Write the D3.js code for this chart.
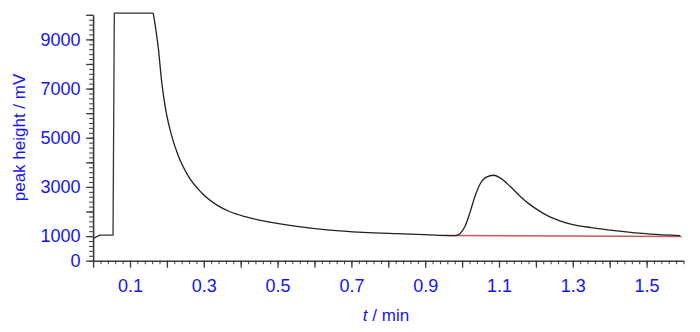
<!DOCTYPE html>
<html>
<head>
<meta charset="utf-8">
<script src="https://cdn.jsdelivr.net/npm/d3@7"></script>
<style>
  html, body { margin: 0; padding: 0; background: #fff; }
  svg { display: block; }
  text { font-family: "Liberation Sans", Arial, sans-serif; }
</style>
</head>
<body>
<svg id="chart" width="700" height="332"></svg>
<script>
// ---- data ----
// step part of the trace (injection + detector saturation)
const stepTime = [0, 0.018, 0.054, 0.0575, 0.163];
const stepValue = [900, 1040, 1040, 10070, 10070];
// smooth part of the trace (decay, analyte peak, tail)
const traceTime = [0.163, 0.177, 0.186, 0.195, 0.213, 0.231, 0.258, 0.294,
  0.339, 0.371, 0.412, 0.461, 0.552, 0.642, 0.732, 0.823, 0.913, 0.962, 0.981, 0.994, 1.008,
  1.021, 1.035, 1.048, 1.067, 1.085, 1.103, 1.130, 1.157, 1.184, 1.211, 1.238, 1.265, 1.30,
  1.35, 1.42, 1.51, 1.591];
const traceValue = [10070, 8612, 7253, 6298, 5073, 4257, 3441, 2763,
  2230, 1990, 1790, 1620, 1400, 1245, 1155, 1098, 1050, 1025, 1020, 1100, 1400,
  1946, 2624, 3100, 3408, 3475, 3367, 3025, 2624, 2280, 2008, 1780, 1620, 1470,
  1345, 1210, 1080, 1020];
const baselineTime = [0.965, 1.595];
const baselineValue = [1020, 985];

const xMajorTicks = [0, 0.1, 0.2, 0.3, 0.4, 0.5, 0.6, 0.7, 0.8, 0.9, 1.0, 1.1, 1.2, 1.3, 1.4, 1.5];
const xTickLabels = ["0.1", "0.3", "0.5", "0.7", "0.9", "1.1", "1.3", "1.5"];
const yMajorTicks = [0, 1000, 2000, 3000, 4000, 5000, 6000, 7000, 8000, 9000, 10000];
const yTickLabels = ["0", "1000", "3000", "5000", "7000", "9000"];
const xTitleItalic = "t";
const xTitleRest = " / min";
const yTitle = "peak height / mV";

// ---- drawing ----
const svg = d3.select("#chart");
const x = d3.scaleLinear().domain([0, 1.6]).range([93.1, 683.5]);
const y = d3.scaleLinear().domain([0, 10000]).range([260.7, 14.8]);

const axisColor = "#3a3a3a";
const labelColor = "#1414f5";

const xMinor = d3.range(0, 1.6001, 0.02).map(v => +v.toFixed(2));
const yMinor = d3.range(0, 10001, 200);

// minor ticks
svg.append("g").attr("transform", `translate(0,${y(0)})`)
  .call(d3.axisBottom(x).tickValues(xMinor).tickSize(3.5).tickSizeOuter(0).tickFormat(""))
  .call(g => g.select(".domain").remove())
  .call(g => g.selectAll("line").attr("stroke", axisColor).attr("stroke-width", 1));
svg.append("g").attr("transform", `translate(${x(0)},0)`)
  .call(d3.axisLeft(y).tickValues(yMinor).tickSize(4).tickSizeOuter(0).tickFormat(""))
  .call(g => g.select(".domain").remove())
  .call(g => g.selectAll("line").attr("stroke", axisColor).attr("stroke-width", 1));

// major x axis
const fmtX = d => { const s = d3.format(".1f")(d); return xTickLabels.includes(s) ? s : ""; };
svg.append("g").attr("transform", `translate(0,${y(0)})`)
  .call(d3.axisBottom(x).tickValues(xMajorTicks).tickSize(7).tickSizeOuter(0).tickPadding(12).tickFormat(fmtX))
  .call(g => g.select(".domain").attr("stroke", axisColor).attr("stroke-width", 1.6))
  .call(g => g.selectAll("line").attr("stroke", axisColor).attr("stroke-width", 1.3))
  .call(g => g.selectAll("text").attr("fill", labelColor).attr("font-size", 18)
    .attr("font-family", "Liberation Sans, Arial, sans-serif"));

// major y axis
const fmtY = d => { const s = String(d); return yTickLabels.includes(s) ? s : ""; };
svg.append("g").attr("transform", `translate(${x(0)},0)`)
  .call(d3.axisLeft(y).tickValues(yMajorTicks).tickSize(7).tickSizeOuter(0).tickPadding(5.5).tickFormat(fmtY))
  .call(g => g.select(".domain").attr("stroke", axisColor).attr("stroke-width", 1.6))
  .call(g => g.selectAll("line").attr("stroke", axisColor).attr("stroke-width", 1.3))
  .call(g => g.selectAll("text").attr("fill", labelColor).attr("font-size", 18)
    .attr("font-family", "Liberation Sans, Arial, sans-serif"));

// titles
const xt = svg.append("text").attr("x", 386).attr("y", 321).attr("text-anchor", "middle")
  .attr("font-size", 17).attr("fill", labelColor);
xt.append("tspan").attr("font-style", "italic").text(xTitleItalic);
xt.append("tspan").text(xTitleRest);

svg.append("text").attr("transform", "translate(25,137.5) rotate(-90)")
  .attr("text-anchor", "middle").attr("font-size", 17).attr("fill", labelColor).text(yTitle);

// baseline (red)
const baseData = baselineTime.map((t, i) => [t, baselineValue[i]]);
svg.append("path").datum(baseData)
  .attr("fill", "none").attr("stroke", "#c85a5a").attr("stroke-width", 1.5)
  .attr("d", d3.line().x(d => x(d[0])).y(d => y(d[1])));

// trace: step section (linear) + smooth section
const stepData = stepTime.map((t, i) => [t, stepValue[i]]);
svg.append("path").datum(stepData)
  .attr("fill", "none").attr("stroke", "#333").attr("stroke-width", 1.3)
  .attr("stroke-linejoin", "round")
  .attr("d", d3.line().x(d => x(d[0])).y(d => y(d[1])));

const traceData = traceTime.map((t, i) => [t, traceValue[i]]);
svg.append("path").datum(traceData)
  .attr("fill", "none").attr("stroke", "#222").attr("stroke-width", 1.3)
  .attr("stroke-linejoin", "round")
  .attr("d", d3.line().curve(d3.curveMonotoneX).x(d => x(d[0])).y(d => y(d[1])));
</script>
</body>
</html>
